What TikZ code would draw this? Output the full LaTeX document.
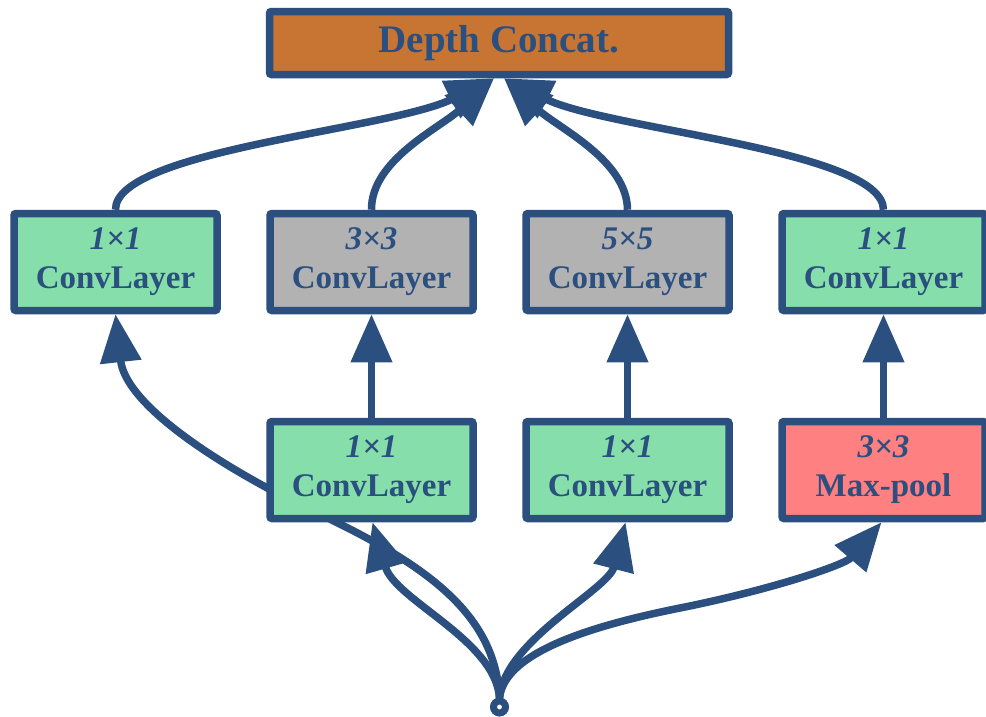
\documentclass[tikz,border=0pt]{standalone}
\usepackage{fontspec}
\setmainfont{Liberation Serif}
\usetikzlibrary{arrows.meta}
\definecolor{navy}{RGB}{43,80,128}
\definecolor{lgreen}{RGB}{134,223,170}
\definecolor{lgray}{RGB}{178,178,178}
\definecolor{orng}{RGB}{200,117,51}
\definecolor{pinkred}{RGB}{255,128,128}
\pgfdeclarelayer{bg}
\pgfsetlayers{bg,main}
\begin{document}
\begin{tikzpicture}[x=1pt,y=-1pt,
  box/.style={draw=navy, line width=7.5pt, rounded corners=2pt, minimum width=203pt,
    minimum height=97pt, text=navy, font=\fontsize{33}{39}\selectfont\bfseries,
    align=center, inner sep=0pt},
  conn/.style={draw=navy, line width=7.5pt},
  arr/.style={conn, -{Triangle[length=48pt,width=40pt]}},
]
\useasboundingbox (0,0) rectangle (986,716);
\node[box, fill=orng, minimum width=459pt, minimum height=63pt,
  font=\fontsize{39}{44}\selectfont\bfseries] (dc) at (499,43) {Depth Concat.};
\node[box, fill=lgreen] (a1) at (115.5,262) {\textit{1×1}\\ConvLayer};
\node[box, fill=lgray]  (a2) at (371.5,262) {\textit{3×3}\\ConvLayer};
\node[box, fill=lgray]  (a3) at (627.5,262) {\textit{5×5}\\ConvLayer};
\node[box, fill=lgreen] (a4) at (883.5,262) {\textit{1×1}\\ConvLayer};
\node[box, fill=lgreen] (b2) at (371.5,470) {\textit{1×1}\\ConvLayer};
\node[box, fill=lgreen] (b3) at (627.5,470) {\textit{1×1}\\ConvLayer};
\node[box, fill=pinkred] (b4) at (883.5,470) {\textit{3×3}\\Max-pool};
\node[circle, draw=navy, fill=white, line width=7pt, minimum size=12pt, inner sep=0pt] (src) at (499.5,707) {};
\begin{pgfonlayer}{bg}
\draw[arr] (a1.north) .. controls (115,150) and (390,130) .. ([xshift=-5pt]dc.south);
\draw[arr] (a2.north) .. controls (371,160) and (440,128) .. ([xshift=-5pt]dc.south);
\draw[arr] (a4.north) .. controls (883,150) and (608,130) .. ([xshift=5pt]dc.south);
\draw[arr] (a3.north) .. controls (627,160) and (558,128) .. ([xshift=5pt]dc.south);
\draw[arr] (b2.north) -- (a2.south);
\draw[arr] (b3.north) -- (a3.south);
\draw[arr] (b4.north) -- (a4.south);
\draw[arr] (src.north) .. controls (495,610) and (420,560) .. (300,505) .. controls (200,455) and (125,400) .. (a1.south);
\draw[arr] (src.north) .. controls (495,640) and (395,600) .. ([xshift=1pt]b2.south);
\draw[arr] (src.north) .. controls (505,640) and (608,590) .. ([xshift=-2pt]b3.south);
\draw[arr] (src.north) .. controls (505,655) and (580,628) .. (680,608) .. controls (770,590) and (845,565) .. ([xshift=-2pt]b4.south);
\end{pgfonlayer}
\end{tikzpicture}
\end{document}
